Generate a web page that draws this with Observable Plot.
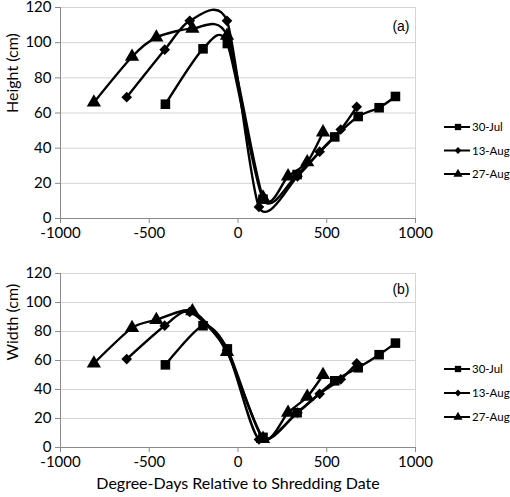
<!DOCTYPE html>
<html>
<head>
<meta charset="utf-8">
<script src="https://cdn.jsdelivr.net/npm/d3@7"></script>
<script src="https://cdn.jsdelivr.net/npm/@observablehq/plot@0.6"></script>
<style>
  html, body { margin: 0; padding: 0; background: #fff; }
  #wrap { position: relative; width: 510px; height: 497px; }
  .panel { position: absolute; left: 0; }
  .legend { position: absolute; left: 440px; }
</style>
</head>
<body>
<div id="wrap"></div>
<script>
// ---- data ----
const seriesNames = ["30-Jul", "13-Aug", "27-Aug"];
const seriesSymbols = ["square", "diamond2", "triangle"];

const jul30X = [-409, -197, -60, 141, 333, 545, 677, 795, 887];
const jul30H = [65, 96.5, 99.5, 11, 25, 46.4, 58, 63, 69.4];
const jul30W = [57, 84, 68, 7, 24, 46, 55, 64, 72];

const aug13X = [-627, -413, -272, -62, 118, 335, 460, 579, 669];
const aug13H = [69, 96, 112.4, 112.4, 6.6, 24, 38, 50.6, 63.5];
const aug13W = [61, 84, 93.5, 67, 5.5, 24, 37, 47, 58];

const aug27X = [-812, -597, -460, -257, -62, 141, 282, 390, 479];
const aug27H = [66, 92, 103, 108, 104, 12, 24, 32, 49];
const aug27W = [58, 82.5, 88, 94, 66, 6, 24, 35, 50];

const xTicks = [-1000, -500, 0, 500, 1000];
const yTicks = [0, 20, 40, 60, 80, 100, 120];
const xTitle = "Degree-Days Relative to Shredding Date";

function rows(xs, ys, name) {
  return xs.map((x, i) => ({x, y: ys[i], series: name}));
}
const heightData = [
  rows(jul30X, jul30H, seriesNames[0]),
  rows(aug13X, aug13H, seriesNames[1]),
  rows(aug27X, aug27H, seriesNames[2])
];
const widthData = [
  rows(jul30X, jul30W, seriesNames[0]),
  rows(aug13X, aug13W, seriesNames[1]),
  rows(aug27X, aug27W, seriesNames[2])
];

const symbolR = {"square": 5.4, "diamond2": 4.8, "triangle": 5.3};

function panel(data, yTitle, tag, cfg) {
  const marks = [
    Plot.gridY(yTicks.filter(d => d > 0), {stroke: "#d4d4d4", strokeOpacity: 1}),
    Plot.ruleX([1000], {stroke: "#d4d4d4"}),
    Plot.ruleY([0], {stroke: "#8a8a8a"}),
    Plot.ruleX([-1000], {stroke: "#8a8a8a"}),
    Plot.axisX({ticks: xTicks, tickSize: 5, tickPadding: 4, stroke: "#8a8a8a",
      tickFormat: d => String(d), fill: "#000", fontSize: 15, label: null}),
    Plot.axisY({ticks: yTicks, tickSize: 5, tickPadding: 4, stroke: "#8a8a8a",
      tickFormat: d => String(d), fill: "#000", fontSize: 15, label: null}),
    Plot.text([yTitle], {frameAnchor: "left", dx: -48, rotate: -90, fontSize: 16, fill: "#000"}),
    Plot.text([tag], {frameAnchor: "top-right", dx: -6, dy: cfg.tagDy, textAnchor: "end",
      fontFamily: "Liberation Sans, Arial, sans-serif", fontSize: 14, fill: "#000"})
  ];
  data.forEach((d) => {
    marks.push(Plot.line(d, {x: "x", y: "y", curve: "cardinal", tension: 0.25, stroke: "#000", strokeWidth: 2.4}));
  });
  data.forEach((d, i) => {
    const s = seriesSymbols[i];
    marks.push(Plot.dot(d, {x: "x", y: "y", symbol: () => s, r: symbolR[s], fill: "#000", stroke: "none"}));
  });
  if (cfg.xTitle) {
    marks.push(Plot.text([cfg.xTitle], {frameAnchor: "bottom", dy: 41, fontSize: 16, fill: "#000"}));
  }
  return Plot.plot({
    width: 510,
    height: cfg.height,
    marginLeft: 60,
    marginRight: 95,
    marginTop: cfg.marginTop,
    marginBottom: cfg.marginBottom,
    style: {fontFamily: "Lato, sans-serif", fontSize: "15px", color: "#000", background: "transparent", overflow: "visible"},
    x: {domain: [-1000, 1000]},
    y: {domain: [0, 120]},
    symbol: {domain: seriesSymbols, range: seriesSymbols},
    marks
  });
}

function makeLegend(topPx, gap) {
  const div = document.createElement("div");
  div.className = "legend";
  div.style.top = topPx + "px";
  const svg = d3.select(div).append("svg").attr("width", 70).attr("height", 70)
    .style("font-family", "Lato, sans-serif").style("font-size", "11.5px");
  seriesNames.forEach((name, i) => {
    const cy = 8 + i * gap;
    const g = svg.append("g").attr("transform", `translate(0,${cy})`);
    g.append("line").attr("x1", 4).attr("x2", 30).attr("y1", 0).attr("y2", 0)
      .attr("stroke", "#000").attr("stroke-width", 2);
    const sym = {square: d3.symbolSquare, diamond2: d3.symbolDiamond2, triangle: d3.symbolTriangle}[seriesSymbols[i]];
    const size = {square: 40, diamond2: 30, triangle: 36}[seriesSymbols[i]];
    g.append("path").attr("d", d3.symbol(sym, size)()).attr("transform", "translate(18,0)").attr("fill", "#000");
    g.append("text").attr("x", 32).attr("y", 0).attr("dy", "0.35em").attr("fill", "#000").text(name);
  });
  return div;
}

const wrap = document.getElementById("wrap");
const topChart = panel(heightData, "Height (cm)", "(a)", {height: 250, marginTop: 7, marginBottom: 32, tagDy: 14});
topChart.classList.add("panel"); topChart.style.top = "0px";
wrap.appendChild(topChart);
const botChart = panel(widthData, "Width (cm)", "(b)", {height: 247, marginTop: 23, marginBottom: 50, tagDy: 11, xTitle});
botChart.classList.add("panel"); botChart.style.top = "250px";
wrap.appendChild(botChart);
wrap.appendChild(makeLegend(127 - 8, 23.5));
wrap.appendChild(makeLegend(369 - 8, 24));
</script>
</body>
</html>
